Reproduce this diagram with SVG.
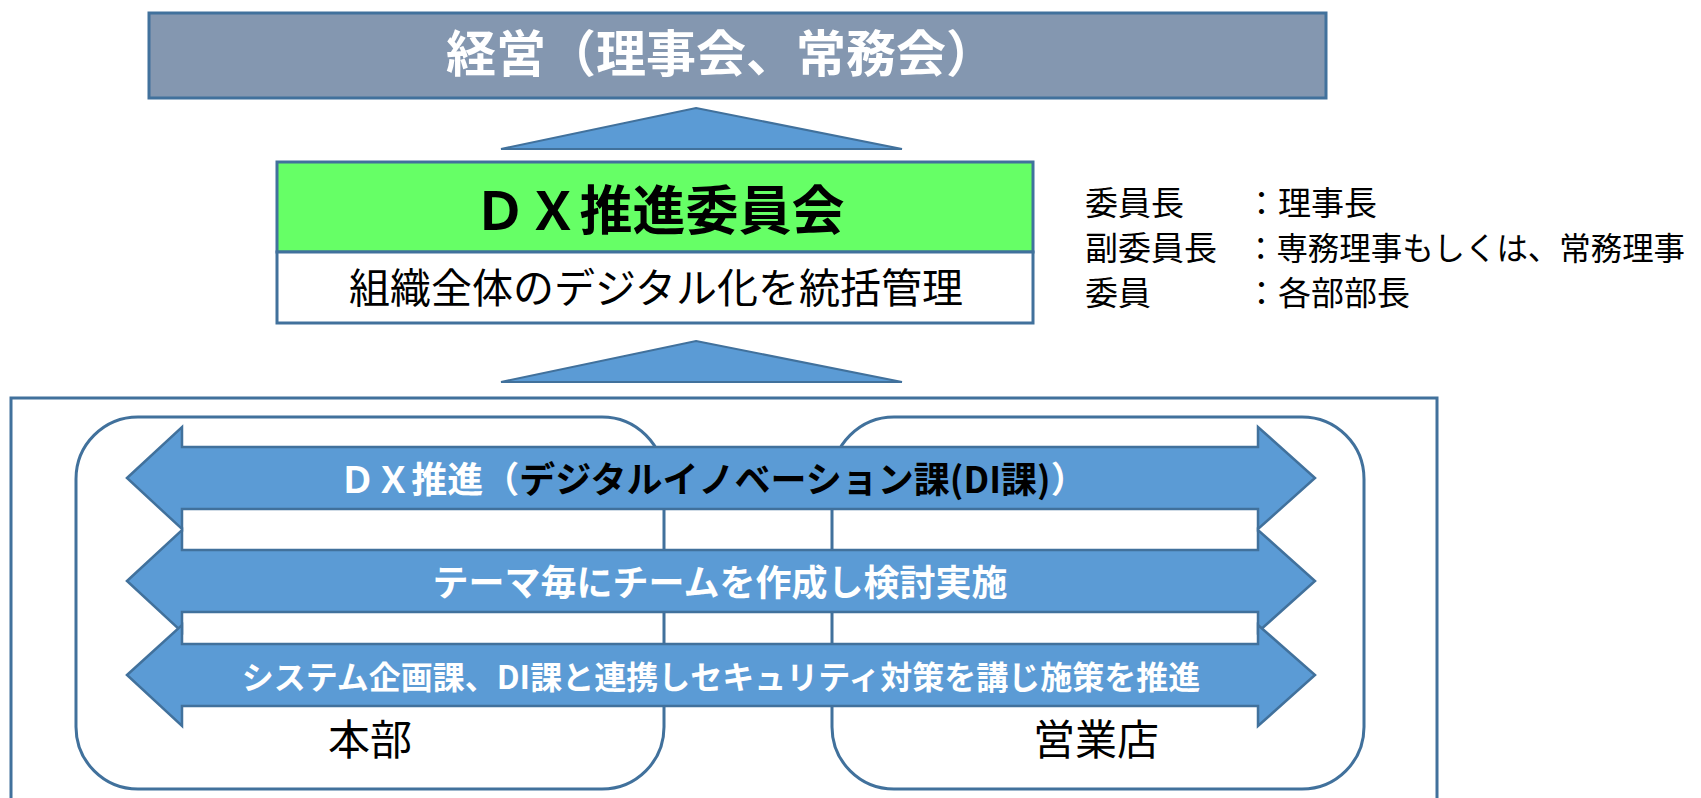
<svg xmlns="http://www.w3.org/2000/svg" width="1701" height="798" viewBox="0 0 1701 798">
<style>
  .jp { font-family: "Noto Sans CJK JP", "Noto Sans", sans-serif; }
  .b { font-weight: bold; }
  .w { fill: #FFFFFF; }
  .k { fill: #000000; }
  .tri { fill: #5B9BD5; stroke: #41719C; stroke-width: 2; }
  .arrow { fill: #5B9BD5; stroke: #41719C; stroke-width: 2.5; stroke-linejoin: miter; }
  .box { fill: #FFFFFF; stroke: #41719C; stroke-width: 3; }
</style>
<rect width="1701" height="798" fill="#FFFFFF"/>

<g id="top-management">
  <rect x="149" y="13" width="1177" height="85" fill="#8497B0" stroke="#41719C" stroke-width="3"/>
  <text class="jp b w" x="721" y="72" font-size="50" text-anchor="middle">経営（理事会、常務会）</text>
</g>

<g id="connectors">
  <polygon class="tri" points="696,108 902,149 501,149"/>
  <polygon class="tri" points="696,341 902,382 501,382"/>
</g>

<g id="dx-committee">
  <rect x="277" y="162" width="756" height="90" fill="#66FF66" stroke="#41719C" stroke-width="3"/>
  <rect x="277" y="252" width="756" height="71" fill="#FFFFFF" stroke="#41719C" stroke-width="3"/>
  <text class="jp b k" x="659" y="230" font-size="53" text-anchor="middle">ＤＸ推進委員会</text>
  <text class="jp k" x="656" y="303" font-size="41" text-anchor="middle">組織全体のデジタル化を統括管理</text>
</g>

<g id="members" class="jp k" font-size="33">
  <text x="1085" y="215">委員長</text>
  <text x="1245" y="215">：理事長</text>
  <text x="1085" y="260">副委員長</text>
  <text x="1245" y="260" font-size="32" textLength="440" lengthAdjust="spacingAndGlyphs">：専務理事もしくは、常務理事</text>
  <text x="1085" y="305">委員</text>
  <text x="1245" y="305">：各部部長</text>
</g>

<g id="organization">
  <rect x="11" y="398" width="1426" height="410" fill="#FFFFFF" stroke="#41719C" stroke-width="3"/>
</g>

<g id="honbu">
  <rect class="box" x="76" y="417" width="588" height="372" rx="62" ry="62"/>
  <text class="jp k" x="370" y="755" font-size="42" text-anchor="middle">本部</text>
</g>

<g id="eigyouten">
  <rect class="box" x="832" y="417" width="532" height="372" rx="62" ry="62"/>
  <text class="jp k" x="1096" y="755" font-size="42" text-anchor="middle">営業店</text>
</g>

<g id="arrow-dx">
  <polygon class="arrow" points="127,478 182,427 182,447 1258,447 1258,427 1315,478 1258,529 1258,509 182,509 182,529"/>
  <text class="jp b" x="713" y="493" font-size="36" text-anchor="middle"><tspan class="w">ＤＸ推進（</tspan><tspan class="k">デジタルイノベーション課(DI課)</tspan><tspan class="w">）</tspan></text>
</g>

<g id="arrow-team">
  <polygon class="arrow" points="127,581 182,530 182,550 1258,550 1258,530 1315,581 1258,632 1258,612 182,612 182,632"/>
  <text class="jp b w" x="720" y="596" font-size="36" text-anchor="middle">テーマ毎にチームを作成し検討実施</text>
</g>

<g id="arrow-security">
  <polygon class="arrow" points="127,675 182,625 182,644 1258,644 1258,625 1315,675 1258,726 1258,706 182,706 182,726"/>
  <text class="jp b w" x="721" y="689" font-size="32" text-anchor="middle">システム企画課、DI課と連携しセキュリティ対策を講じ施策を推進</text>
</g>
</svg>
